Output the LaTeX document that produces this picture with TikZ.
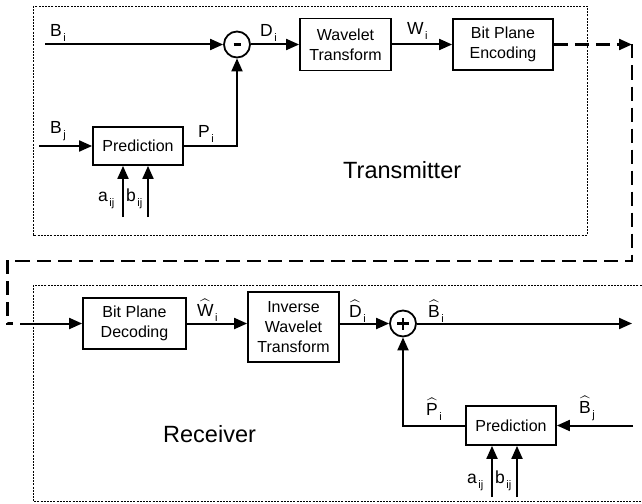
\documentclass[tikz,border=0pt]{standalone}
\usepackage{fontspec}
\setmainfont{Liberation Sans}
\usepackage{amsmath}
\usetikzlibrary{arrows.meta}
\newcommand\sbs[1]{\hspace{1.5pt}\raisebox{-5pt}{\fontsize{11}{11}\selectfont #1}}
\newcommand\hatl[1]{$\widehat{\text{#1}}$}
\begin{document}
\begin{tikzpicture}[x=1pt,y=-1pt,
  blk/.style={draw,line width=1.8pt,align=center,font=\fontsize{16}{20}\selectfont,inner sep=0pt},
  sig/.style={line width=2pt,-{Triangle[length=13pt,width=11pt]}},
  sumc/.style={draw,circle,line width=1.8pt,minimum size=26pt,inner sep=0pt},
  lbl/.style={anchor=base west,inner sep=0pt,font=\fontsize{17.5}{20}\selectfont},
  frame/.style={line width=0.7pt,dash pattern=on 2pt off 1.2pt},
  link/.style={line width=2.2pt,dash pattern=on 14pt off 7pt},
  big/.style={anchor=base west,inner sep=0pt,font=\fontsize{23.5}{28}\selectfont}]
\useasboundingbox (0,0) rectangle (642,503);
% frames
\draw[frame] (33,6) rectangle (587,235);
\draw[frame] (33,285) rectangle (660,501.5);
% transmitter
\node[sumc] (s1) at (237,44.5) {};
\draw[line width=2.8pt] ([xshift=-3.5pt]s1.center) -- ([xshift=3.5pt]s1.center);
\node[blk,minimum width=91pt,minimum height=52pt] (wav) at (345.5,44.5) {Wavelet\\Transform};
\node[blk,minimum width=100pt,minimum height=51pt] (enc) at (503,44.5) {Bit Plane\\Encoding};
\node[blk,minimum width=90pt,minimum height=38pt] (pt) at (138,146) {Prediction};
\coordinate (bi) at (45,44.5);
\coordinate (bj) at (39,146);
\coordinate (ta) at (123,217);
\coordinate (tb) at (148,217);
\draw[sig] (bi) -- (s1);
\draw[sig] (bj) -- (pt);
\draw[sig] (pt.east) -| (s1.south);
\draw[sig] (s1) -- (wav);
\draw[sig] (wav) -- (enc);
\draw[sig] (ta) -- (ta |- pt.south);
\draw[sig] (tb) -- (tb |- pt.south);
% link
\coordinate (k1) at (632,44.5);
\coordinate (k2) at (632,261);
\coordinate (k3) at (7.5,261);
\coordinate (k4) at (7.5,323.5);
\coordinate (k5) at (13,323.5);
\coordinate (rin) at (20,323.5);
\draw[link,-{Triangle[length=13pt,width=11pt]}] (enc) -- (k1);
\draw[link] (k1) -- (k2) -- (k3) -- (k4) -- (k5);
% receiver
\node[blk,minimum width=103pt,minimum height=51pt] (dec) at (134.5,323.5) {Bit Plane\\Decoding};
\node[blk,minimum width=91pt,minimum height=70pt] (inv) at (293.5,327) {Inverse\\Wavelet\\Transform};
\node[sumc] (s2) at (403,323.5) {};
\draw[line width=2.3pt] ([xshift=-6pt]s2.center) -- ([xshift=6pt]s2.center);
\draw[line width=2.3pt] ([yshift=-6pt]s2.center) -- ([yshift=6pt]s2.center);
\node[blk,minimum width=90pt,minimum height=39pt] (pr) at (511,425.5) {Prediction};
\coordinate (rout) at (632,323.5);
\coordinate (rbj) at (633,425.5);
\coordinate (ra) at (492,497);
\coordinate (rb) at (517,497);
\draw[sig] (rin) -- (dec);
\draw[sig] (dec.east) -- (dec.east -| inv.west);
\draw[sig] (inv.east |- s2) -- (s2);
\draw[sig] (s2) -- (rout);
\draw[sig] (rbj) -- (pr);
\draw[sig] (pr.west) -| (s2.south);
\draw[sig] (ra) -- (ra |- pr.south);
\draw[sig] (rb) -- (rb |- pr.south);
% labels
\node[lbl] (lbi) at (50,37) {B\sbs{i}};
\node[lbl] (ldi) at (260,37) {D\sbs{i}};
\node[lbl] (lwi) at (407,35) {W\sbs{i}};
\node[lbl] (lbj) at (50,133) {B\sbs{j}};
\node[lbl] (lpi) at (198,137) {P\sbs{i}};
\node[lbl] (la1) at (98,201) {a\sbs{ij}};
\node[lbl] (lb1) at (126,201) {b\sbs{ij}};
\node[big] (ttx) at (343,178) {Transmitter};
\node[lbl] (lwh) at (197,316) {\hatl{W}\sbs{i}};
\node[lbl] (ldh) at (349,317) {\hatl{D}\sbs{i}};
\node[lbl] (lbh) at (428,317) {\hatl{B}\sbs{i}};
\node[lbl] (lph) at (426,415) {\hatl{P}\sbs{i}};
\node[lbl] (lbjh) at (579,413) {\hatl{B}\sbs{j}};
\node[lbl] (la2) at (467,483) {a\sbs{ij}};
\node[lbl] (lb2) at (495,483) {b\sbs{ij}};
\node[big] (rtx) at (163,442) {Receiver};
\end{tikzpicture}
\end{document}
